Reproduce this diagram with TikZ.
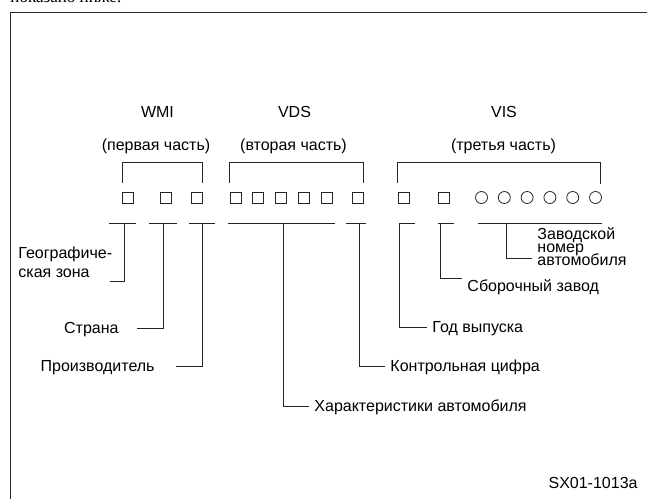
\documentclass[tikz,border=0pt]{standalone}
\usepackage{fontspec}
\setmainfont{Liberation Sans}
\newfontfamily\bodyserif{Liberation Serif}
\usetikzlibrary{calc,positioning}
\definecolor{framebrown}{RGB}{58,40,40}
\definecolor{ink}{RGB}{38,38,38}
\tikzset{
	vin chart/.style={x=1pt, y=-1pt, line width=.9pt, draw=ink},
	sqbox/.style={draw=ink, line width=.8pt, minimum size=11pt, inner sep=0pt},
	digit/.style={sqbox, circle, minimum size=12pt},
	part/.style={font=\fontsize{16}{19}\selectfont, anchor=base, inner sep=0pt},
	lbl/.style={font=\fontsize{16}{18.5}\selectfont, text height=10pt, text depth=0pt,
		inner xsep=5pt, inner ysep=0pt},
	uline/.style={draw=ink, line width=.9pt},
	lead/.style={draw=ink, line width=.9pt}
}

\begin{document}
\begin{tikzpicture}[vin chart]
	\useasboundingbox (0,0) rectangle (647,498);
	\clip (0,0) rectangle (647,498);
	\node[font=\bodyserif\fontsize{17}{20}\selectfont, anchor=base west, inner sep=0pt] (intro) at (10,2.6) {показано ниже:};
	\draw[line width=1.5pt, framebrown] (10.5,520) |- (680,12.5);

	% the 17 positions of the number
	\foreach \n/\x in {w1/128, w2/165.5, w3/196.5,
			v1/235.5, v2/258.25, v3/281, v4/303.75, v5/326.5, v6/357.5,
			s1/403.5, s2/443.5}
		\node[sqbox] (\n) at (\x,197.5) {};
	\foreach \n/\x in {c1/481.5, c2/504.3, c3/527.1, c4/549.9, c5/572.7, c6/595.5}
		\node[digit] (\n) at (\x,197.5) {};

	\draw[uline] ([yshift=9pt]w1.north west) -- ++(0,-20) -| ([yshift=9pt]w3.north east);
	\draw[uline] ([yshift=9pt]v1.north west) -- ++(0,-20) -| ([yshift=9pt]v6.north east);
	\draw[uline] ([yshift=9pt]s1.north west) -- ++(0,-20) -| ([yshift=9pt]c6.north east);

	\node[part] (wmi) at (157.5,117) {WMI};
	\node[part] (wmi note) at (156,150.5) {(первая часть)};
	\node[part] (vds) at (294.5,117) {VDS};
	\node[part] (vds note) at (293.5,150.5) {(вторая часть)};
	\node[part] (vis) at (504,117) {VIS};
	\node[part] (vis note) at (503.5,150.5) {(третья часть)};

	\foreach \a/\b in {109/136, 149/177, 189/215, 228/335, 346/366, 399/415, 438/454, 478/602}
		\draw[uline] (\a,223) -- (\b,223);
	\foreach \i/\x in {1/124, 2/163, 3/202, 4/283, 5/359, 6/399, 7/440, 8/506.5}
		\coordinate (p\i) at (\x,223);

	\node[font=\fontsize{16}{18.4}\selectfont, align=left, anchor=north west, inner sep=0pt] (zone) at (18,246.8) {Географиче-\\ская зона};
	\node[lbl, anchor=base east] (country) at (124,333) {Страна};
	\node[lbl, anchor=base east] (maker) at (160,371) {Производитель};
	\node[lbl, anchor=base west] (props) at (309,411.7) {Характеристики автомобиля};
	\node[lbl, anchor=base west] (check) at (385,371) {Контрольная цифра};
	\node[lbl, anchor=base west] (year) at (427,332.5) {Год выпуска};
	\node[lbl, anchor=base west] (plant) at (462,291.5) {Сборочный завод};
	% tight leading for the three short lines
	\node[font=\fontsize{16}{13}\selectfont, anchor=north west, inner sep=0pt] (serial) at (537,227.5)
		{\vbox{\baselineskip=13pt\lineskiplimit=-\maxdimen
			\hbox{Заводской}\hbox{номер}\hbox{автомобиля}}};

	\draw[lead] (p1) |- ([shift={(-3pt,-3.3pt)}]zone.south east);
	\draw[lead, shorten >=13pt] (p2) |- (country.east);
	\draw[lead, shorten >=16pt] (p3) |- (maker.east);
	\draw[lead] (p4) |- (props.west);
	\draw[lead] (p5) |- (check.west);
	\draw[lead] (p6) |- (year.west);
	\draw[lead] (p7) |- ([yshift=3pt]plant.north west);
	\draw[lead] (p8) |- ([shift={(-5pt,8pt)}]serial.south west);

	\node[lbl, anchor=base east, inner xsep=0pt] (code) at (638,488) {SX01-1013a};
\end{tikzpicture}
\end{document}
